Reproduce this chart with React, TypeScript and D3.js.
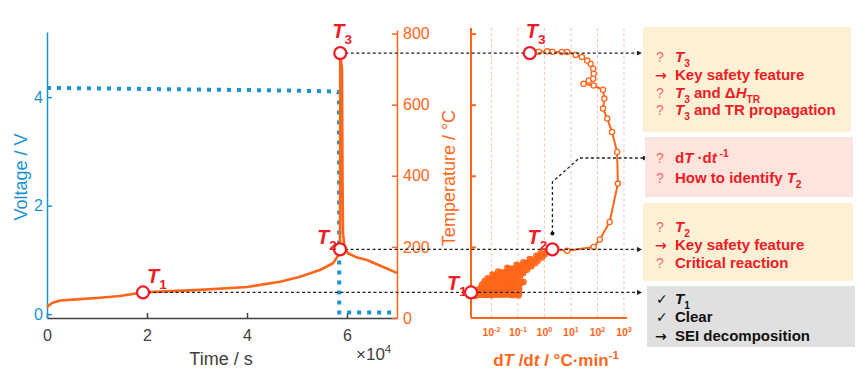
import { useEffect, useRef } from 'react';
import * as d3 from 'd3';

// left panel: time in 10^4 s
const tempTime = [0, 0.1, 0.26, 0.66, 1.06, 1.46, 1.92, 3.06, 4.0, 4.66, 5.06, 5.46, 5.72, 5.82, 5.86, 5.865, 5.9, 5.91, 5.92, 5.95, 6.02, 6.2, 6.4, 6.7, 6.96, 7.0];
const tempValues = [31, 42, 49, 53, 57, 62, 72, 79, 87, 102, 116, 135, 154, 175, 193, 745, 700, 400, 239, 199, 182, 170, 163, 145, 129, 127];
const voltTime = [0, 1, 2, 3, 4, 4.86, 5.5, 5.8, 5.84, 5.845, 6.5, 7.0];
const voltValues = [4.17, 4.16, 4.15, 4.14, 4.13, 4.12, 4.11, 4.1, 4.08, 0.03, 0.03, 0.03];

// right panel: dT/dt (°C/min) vs temperature
const rateValues = [
  0.0017, 0.063, 0.0025, 0.105, 0.0063, 0.089, 0.0022, 0.05, 0.01, 0.112, 0.0028, 0.079, 0.0032, 0.112,
  0.004, 0.1, 0.0045, 0.126, 0.0056, 0.162, 0.1, 0.0071, 0.12, 0.011, 0.158, 0.018, 0.22, 0.04, 0.32,
  0.089, 0.45, 0.16, 0.56, 0.28, 0.8, 0.5, 1.0, 0.71, 1.3, 1.6, 2.0,
  7.2, 72, 123, 288, 589, 550, 355, 234, 162, 182, 162, 72, 30, 47, 69, 72, 69, 55, 41, 26, 15, 7.2,
  4.5, 2.0, 1.26, 0.61, 0.28,
];
const rateTemps = [
  72, 64, 62, 63, 65, 66, 68, 67, 64, 70, 74, 76, 80, 82,
  86, 90, 94, 98, 104, 101, 108, 112, 116, 122, 126, 131, 136, 141, 145,
  150, 154, 157, 161, 166, 170, 175, 178, 182, 186, 190, 193,
  189, 200, 221, 270, 378, 467, 523, 561, 589, 617, 642, 654, 659, 668, 673, 687, 701, 715, 724, 734, 740, 748,
  748, 749, 750, 749, 745,
];
const blobCount = 41;

// characteristic temperatures T1, T2, T3
const keyLabels = ['1', '2', '3'];
const keyTimes = [1.92, 5.86, 5.865];
const keyTemps = [72, 193, 745];
const keyRates = [0.0017, 2.0, 0.28];

const timeTicks = [0, 2, 4, 6];
const voltTicks = [0, 2, 4];
const tempTicks = [0, 200, 400, 600, 800];
const rateDecades = [-2, -1, 0, 1, 2, 3];

type Seg = [string, string?];
type Line = [string, Seg[]];

const box1Lines: Line[] = [
  ['?', [[' '], ['T', 'i'], ['3', 'sub']]],
  ['→', [['Key safety feature']]],
  ['?', [['T', 'i'], ['3', 'sub'], [' and Δ'], ['H', 'i'], ['TR', 'sub']]],
  ['?', [['T', 'i'], ['3', 'sub'], [' and TR propagation']]],
];
const box2Lines: Line[] = [
  ['?', [['d'], ['T', 'i'], [' ·d'], ['t', 'i'], [' -1', 'sup']]],
  ['?', [['How to identify '], ['T', 'i'], ['2', 'sub']]],
];
const box3Lines: Line[] = [
  ['?', [['T', 'i'], ['2', 'sub']]],
  ['→', [['Key safety feature']]],
  ['?', [['Critical reaction']]],
];
const box4Lines: Line[] = [
  ['✓', [['T', 'i'], ['1', 'sub']]],
  ['✓', [['Clear']]],
  ['→', [['SEI decomposition']]],
];

const FONT = 'Liberation Sans, Arial, Helvetica, sans-serif';
const ORANGE = '#ff661a';
const BLUE = '#1b93d1';
const RED = '#ee1c25';
const GRAY = '#404040';

function richText(parent: any, x: number, y: number, segs: Seg[], size: number, fill: string, weight = 'bold', anchor = 'start') {
  const t = parent.append('text')
    .attr('x', x).attr('y', y)
    .attr('font-size', size)
    .attr('fill', fill)
    .attr('font-weight', weight)
    .attr('text-anchor', anchor);
  let shift = 0;
  segs.forEach(([s, st]) => {
    const target = st === 'sub' ? size * 0.3 : st === 'sup' ? -size * 0.4 : 0;
    const span = t.append('tspan').text(s).attr('dy', target - shift);
    if (st === 'i') span.attr('font-style', 'italic');
    if (st === 'sub' || st === 'sup') span.attr('font-size', size * 0.68);
    shift = target;
  });
  return t;
}

export default function App() {
  const svgRef = useRef<SVGSVGElement>(null);

  useEffect(() => {
    if (!svgRef.current) return;
    const svg = d3.select(svgRef.current);
    svg.selectAll('*').remove();
    svg.attr('font-family', FONT);

    const defs = svg.append('defs');
    defs.append('marker')
      .attr('id', 'arr')
      .attr('viewBox', '0 0 6 6')
      .attr('refX', 6).attr('refY', 3)
      .attr('markerWidth', 6).attr('markerHeight', 5)
      .attr('markerUnits', 'userSpaceOnUse')
      .attr('orient', 'auto')
      .append('path').attr('d', 'M0,0L6,3L0,6Z').attr('fill', '#222');

    // scales
    const xTime = d3.scaleLinear().domain([0, 7]).range([47, 397]);
    const yVolt = d3.scaleLinear().domain([-0.07, 5.2]).range([318, 32]);
    const yTemp = d3.scaleLinear().domain([0, 810]).range([318, 30]);
    const xRate = d3.scaleLog().domain([0.0017, 1300]).range([471, 627]);
    const fmt = d3.format('d');

    // ---- left panel axes
    const gx = svg.append('g').attr('transform', 'translate(0,318)')
      .call(d3.axisBottom(xTime).tickValues(timeTicks).tickFormat(fmt).tickSizeInner(-5).tickSizeOuter(0).tickPadding(12));
    gx.selectAll('line, path').attr('stroke', GRAY).attr('stroke-width', 1.5);
    gx.selectAll('text').attr('fill', GRAY).attr('font-size', 16).attr('font-family', FONT);

    const gv = svg.append('g').attr('transform', 'translate(47,0)')
      .call(d3.axisLeft(yVolt).tickValues(voltTicks).tickFormat(fmt).tickSizeInner(-5).tickSizeOuter(0).tickPadding(4));
    gv.selectAll('line, path').attr('stroke', BLUE).attr('stroke-width', 1.5);
    gv.selectAll('text').attr('fill', BLUE).attr('font-size', 16).attr('font-family', FONT);

    const gt = svg.append('g').attr('transform', 'translate(397,0)')
      .call(d3.axisRight(yTemp).tickValues(tempTicks).tickFormat(fmt).tickSizeInner(-5).tickSizeOuter(0).tickPadding(6));
    gt.selectAll('line, path').attr('stroke', ORANGE).attr('stroke-width', 1.5);
    gt.selectAll('text').attr('fill', ORANGE).attr('font-size', 16).attr('font-family', FONT);

    svg.append('text')
      .attr('transform', 'translate(27,177) rotate(-90)')
      .attr('text-anchor', 'middle').attr('font-size', 18).attr('fill', BLUE)
      .text('Voltage / V');
    svg.append('text')
      .attr('transform', 'translate(455,178) rotate(-90)')
      .attr('text-anchor', 'middle').attr('font-size', 18).attr('fill', ORANGE)
      .text('Temperature / °C');
    svg.append('text')
      .attr('x', 221).attr('y', 365)
      .attr('text-anchor', 'middle').attr('font-size', 18).attr('fill', GRAY)
      .text('Time / s');
    richText(svg, 356, 360, [['×10'], ['4', 'sup']], 17, GRAY, 'normal');

    // ---- right panel axes
    rateDecades.forEach(d => {
      svg.append('line')
        .attr('x1', xRate(10 ** d)).attr('x2', xRate(10 ** d))
        .attr('y1', 28).attr('y2', 318)
        .attr('stroke', '#f8b49c').attr('stroke-width', 0.8)
        .attr('stroke-dasharray', '3,2.5');
      richText(svg, xRate(10 ** d), 336, [['10'], [String(d), 'sup']], 10.5, ORANGE, 'bold', 'middle');
    });
    const gr = svg.append('g').attr('transform', 'translate(471,0)')
      .call(d3.axisLeft(yTemp).tickValues([200, 400, 600, 800]).tickSizeInner(-5).tickSizeOuter(0).tickFormat(() => ''));
    gr.select('path').attr('d', 'M0,318V28');
    gr.selectAll('line, path').attr('stroke', ORANGE).attr('stroke-width', 2);
    svg.append('line')
      .attr('x1', 471).attr('x2', 627).attr('y1', 318).attr('y2', 318)
      .attr('stroke', ORANGE).attr('stroke-width', 2);
    richText(svg, 556, 366, [['d'], ['T', 'i'], [' /d'], ['t', 'i'], [' / °C·min'], ['-1', 'sup']], 17, ORANGE, 'bold', 'middle');

    // ---- voltage (dotted)
    const voltLine = d3.line<number>().x((_, i) => xTime(voltTime[i])).y(d => yVolt(d));
    svg.append('path')
      .datum(voltValues)
      .attr('fill', 'none').attr('stroke', BLUE)
      .attr('stroke-width', 4).attr('stroke-dasharray', '4,6')
      .attr('d', voltLine);

    // ---- temperature curve
    const tempLine = d3.line<number>().x((_, i) => xTime(tempTime[i])).y(d => yTemp(d));
    svg.append('path')
      .datum(tempValues)
      .attr('fill', 'none').attr('stroke', ORANGE)
      .attr('stroke-width', 2.6).attr('stroke-linejoin', 'round')
      .attr('d', tempLine);

    // ---- dT/dt curve
    const rateLine = d3.line<number>().x(d => xRate(d)).y((_, i) => yTemp(rateTemps[i]));
    svg.append('path')
      .datum(rateValues)
      .attr('fill', 'none').attr('stroke', ORANGE)
      .attr('stroke-width', 2).attr('stroke-linejoin', 'round')
      .attr('d', rateLine);
    svg.append('g').selectAll('circle')
      .data(rateValues)
      .join('circle')
      .attr('cx', d => xRate(d))
      .attr('cy', (_, i) => yTemp(rateTemps[i]))
      .attr('r', 2.6)
      .attr('fill', '#fff').attr('stroke', ORANGE).attr('stroke-width', 1.3);
    // dense low-temperature band
    svg.append('path')
      .datum(rateValues.slice(0, blobCount))
      .attr('fill', 'none').attr('stroke', ORANGE)
      .attr('stroke-width', 4).attr('stroke-linejoin', 'round')
      .attr('d', rateLine);

    // ---- dashed connectors to boxes
    const dash = (pts: [number, number][], dot = true) => {
      svg.append('path')
        .attr('d', d3.line()(pts))
        .attr('fill', 'none').attr('stroke', '#222')
        .attr('stroke-width', 1.3).attr('stroke-dasharray', '3,2.5')
        .attr('marker-end', 'url(#arr)');
      if (dot) {
        svg.append('circle').attr('cx', pts[0][0]).attr('cy', pts[0][1]).attr('r', 2).attr('fill', '#111');
      }
    };
    keyTimes.forEach((t, i) => {
      const y = yTemp(keyTemps[i]);
      dash([[xTime(t) + 5, y], [642, y]]);
    });
    {
      const x0 = xRate(keyRates[1]);
      const y0 = yTemp(keyTemps[1]) - 16;
      dash([[x0, y0], [x0, 182], [x0 + 27, 158], [648, 158]]);
    }

    // ---- key point circles and labels
    const labelOffL: [number, number][] = [[4, -9], [-23, -5], [-8, -15]];
    const labelOffR: [number, number][] = [[-24, -2], [-25, -5], [-4, -15]];
    keyTimes.forEach((t, i) => {
      const cxL = xTime(t);
      const cxR = xRate(keyRates[i]);
      const cy = yTemp(keyTemps[i]);
      [cxL, cxR].forEach(cx => {
        svg.append('circle')
          .attr('cx', cx).attr('cy', cy).attr('r', 6)
          .attr('fill', '#fff').attr('stroke', RED).attr('stroke-width', 2.2);
      });
      richText(svg, cxL + labelOffL[i][0], cy + labelOffL[i][1], [['T', 'i'], [keyLabels[i], 'sub']], 20, RED);
      richText(svg, cxR + labelOffR[i][0], cy + labelOffR[i][1], [['T', 'i'], [keyLabels[i], 'sub']], 20, RED);
    });

    // ---- text boxes
    const drawBox = (x: number, y: number, w: number, h: number, fill: string, lines: Line[], baselines: number[], color: string) => {
      svg.append('rect').attr('x', x).attr('y', y).attr('width', w).attr('height', h).attr('fill', fill);
      lines.forEach(([bullet, segs], i) => {
        const by = baselines[i];
        if (bullet === '?') {
          svg.append('text').attr('x', 656).attr('y', by).attr('font-size', 14)
            .attr('fill', '#f36a6a').text('?');
        } else if (bullet === '→') {
          svg.append('text').attr('x', 655).attr('y', by).attr('font-size', 14)
            .attr('font-family', 'DejaVu Sans').attr('font-weight', 'bold')
            .attr('fill', color).text(bullet);
        } else {
          svg.append('text').attr('x', 656).attr('y', by).attr('font-size', 14)
            .attr('font-family', 'DejaVu Sans').attr('fill', color).text(bullet);
        }
        richText(svg, 675, by, segs, 15, color);
      });
    };
    drawBox(643, 27, 208, 105, '#fdf0d5', box1Lines, [62, 80, 98, 115], RED);
    drawBox(645, 137, 208, 60, '#fde4dc', box2Lines, [163, 183], RED);
    drawBox(643, 203, 210, 78, '#fdf0d5', box3Lines, [232, 250, 268], RED);
    drawBox(647, 286, 208, 61, '#e0e0e0', box4Lines, [304, 322, 341], '#111');
  }, []);

  return (
    <svg
      ref={svgRef}
      width={865}
      height={387}
      style={{ position: 'absolute', left: 0, top: 0, background: '#fff' }}
    />
  );
}
